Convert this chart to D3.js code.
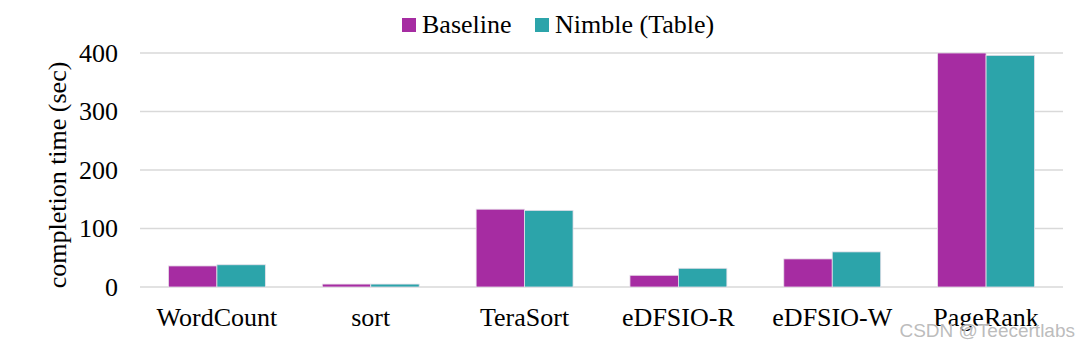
<!DOCTYPE html>
<html>
<head>
<meta charset="utf-8">
<script src="https://cdn.jsdelivr.net/npm/d3@7"></script>
<style>
  html, body { margin: 0; padding: 0; background: #fff; }
  svg { display: block; }
</style>
</head>
<body>
<svg id="chart" width="1080" height="348"></svg>
<script>
const categories = ["WordCount", "sort", "TeraSort", "eDFSIO-R", "eDFSIO-W", "PageRank"];
const seriesNames = ["Baseline", "Nimble (Table)"];
const baseline = [36, 5, 133, 20, 48, 400];
const nimble = [38, 5, 131, 32, 60, 396];
const yTicks = [0, 100, 200, 300, 400];
const colors = ["#A62CA2", "#2CA4AA"];

const svg = d3.select("#chart");
const serif = "'Liberation Serif', 'Times New Roman', serif";

const x = d3.scaleBand().domain(categories).range([140, 1063]).paddingInner(0.37).paddingOuter(0.185);
const xs = d3.scaleBand().domain(seriesNames).range([0, x.bandwidth()]);
const y = d3.scaleLinear().domain([0, 400]).range([287, 53]);

// gridlines
svg.append("g").selectAll("line").data(yTicks).join("line")
  .attr("x1", 140).attr("x2", 1063)
  .attr("y1", d => y(d)).attr("y2", d => y(d))
  .attr("stroke", "#d9d9d9").attr("stroke-width", 1.5);

// y tick labels
svg.append("g").selectAll("text").data(yTicks).join("text")
  .attr("x", 118).attr("y", d => y(d)).attr("dy", "0.33em")
  .attr("text-anchor", "end")
  .style("font-family", serif).style("font-size", "26px").attr("fill", "#000")
  .text(d => d);

// y axis label
svg.append("text")
  .attr("transform", "translate(66,175) rotate(-90)")
  .attr("text-anchor", "middle")
  .style("font-family", serif).style("font-size", "26px").attr("fill", "#000")
  .text("completion time (sec)");

// bars
const series = [baseline, nimble];
const g = svg.append("g");
series.forEach((vals, si) => {
  g.append("g").selectAll("rect").data(categories).join("rect")
    .attr("x", (c) => x(c) + xs(seriesNames[si]))
    .attr("width", xs.bandwidth())
    .attr("y", (c, i) => y(vals[i]))
    .attr("height", (c, i) => y(0) - y(vals[i]))
    .attr("fill", colors[si])
    .attr("stroke", "#e8e0ea").attr("stroke-width", 0.8);
});

// x labels
svg.append("g").selectAll("text").data(categories).join("text")
  .attr("x", c => x(c) + x.bandwidth() / 2).attr("y", 326)
  .attr("text-anchor", "middle")
  .style("font-family", serif).style("font-size", "26px").attr("fill", "#000")
  .text(c => c);

// legend
const legendX = [402, 535];
const legend = svg.append("g");
seriesNames.forEach((n, i) => {
  legend.append("rect").attr("x", legendX[i]).attr("y", 18).attr("width", 14).attr("height", 14)
    .attr("fill", colors[i]);
  legend.append("text").attr("x", legendX[i] + 20).attr("y", 33)
    .style("font-family", serif).style("font-size", "26px").attr("fill", "#000")
    .text(n);
});

// watermark
svg.append("text").attr("x", 1075).attr("y", 337).attr("text-anchor", "end")
  .style("font-family", "'Liberation Sans', Arial, sans-serif").style("font-size", "19px")
  .attr("fill", "#b4b4b4").attr("stroke", "#ffffff").attr("stroke-width", 0.6).attr("paint-order", "stroke")
  .attr("fill-opacity", 0.9)
  .text("CSDN @Teecertlabs");
</script>
</body>
</html>
